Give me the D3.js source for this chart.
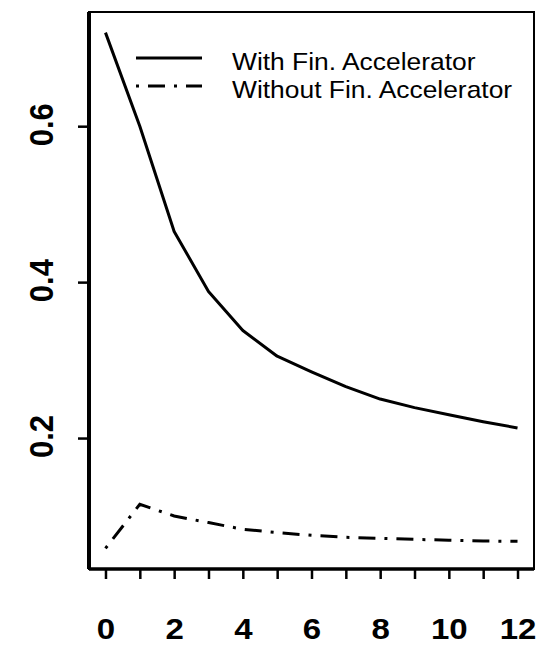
<!DOCTYPE html>
<html>
<head>
<meta charset="utf-8">
<script src="https://cdn.jsdelivr.net/npm/d3@7"></script>
<style>
  body { margin: 0; background: #fff; }
  svg { display: block; }
  text { font-family: "Liberation Sans", Arial, sans-serif; fill: #000; }
</style>
</head>
<body>
<svg width="550" height="646"></svg>
<script>
const periods = [0, 1, 2, 3, 4, 5, 6, 7, 8, 9, 10, 11, 12];
const withAccel = [0.72, 0.60, 0.465, 0.388, 0.338, 0.305, 0.285, 0.266, 0.250, 0.239, 0.230, 0.221, 0.213];
const withoutAccel = [0.0585, 0.115, 0.100, 0.0916, 0.083, 0.0787, 0.0752, 0.0727, 0.0714, 0.070, 0.069, 0.068, 0.0675];
const xTicks = [0, 1, 2, 3, 4, 5, 6, 7, 8, 9, 10, 11, 12];
const xLabels = [0, 2, 4, 6, 8, 10, 12];
const yTicks = [0.2, 0.4, 0.6];
const seriesNames = ['With Fin. Accelerator', 'Without Fin. Accelerator'];

const svg = d3.select('svg');
const margin = {top: 12, right: 16, bottom: 77, left: 89};
const width = +svg.attr('width') - margin.left - margin.right;
const height = +svg.attr('height') - margin.top - margin.bottom;
const sx = 1.1; // the picture is stretched a bit sideways
const dotdash = '3,9,17,9';

const g = svg.append('g')
  .attr('transform', `translate(${margin.left},${margin.top})`);

// R-style 4% padding around the data
const pad = (lo, hi) => [lo - (hi - lo) * 0.04, hi + (hi - lo) * 0.04];
const allY = withAccel.concat(withoutAccel);

const x = d3.scaleLinear()
  .domain(pad(d3.min(periods), d3.max(periods)))
  .range([0, width]);

const y = d3.scaleLinear()
  .domain(pad(d3.min(allY), d3.max(allY)))
  .range([height, 0]);

// frame
g.append('rect')
  .attr('width', width)
  .attr('height', height)
  .attr('fill', 'none')
  .attr('stroke', '#000')
  .attr('stroke-width', 2);

const xAxis = g.append('g')
  .attr('transform', `translate(0,${height})`)
  .call(d3.axisBottom(x)
    .tickValues(xTicks)
    .tickSize(10)
    .tickSizeOuter(0)
    .tickFormat(d => xLabels.includes(d) ? d : ''));

xAxis.select('.domain').remove();
xAxis.selectAll('line').attr('stroke-width', 2.5);
xAxis.selectAll('text')
  .attr('y', 0)
  .attr('dy', 0)
  .attr('transform', `translate(0,70) scale(${sx},1)`)
  .style('font-size', '30px')
  .style('font-weight', 'bold');

const yAxis = g.append('g')
  .call(d3.axisLeft(y)
    .tickValues(yTicks)
    .tickSize(11)
    .tickSizeOuter(0)
    .tickFormat(d3.format('.1f')));

yAxis.select('.domain').remove();
yAxis.selectAll('line').attr('stroke-width', 2.5);
yAxis.selectAll('text')
  .attr('x', 0)
  .attr('dy', 0)
  .attr('text-anchor', 'middle')
  .attr('transform', `translate(-36,-2) scale(${sx},1) rotate(-90)`)
  .style('font-size', '31px')
  .style('font-weight', 'bold');

// heavier left and bottom edges
g.append('line')
  .attr('x1', 0).attr('x2', 0)
  .attr('y1', 0).attr('y2', height)
  .attr('stroke', '#000').attr('stroke-width', 4);
g.append('line')
  .attr('x1', 0).attr('x2', width)
  .attr('y1', height).attr('y2', height)
  .attr('stroke', '#000').attr('stroke-width', 3.5);

const line = d3.line()
  .x((d, i) => x(periods[i]))
  .y(d => y(d));

g.append('path')
  .datum(withAccel)
  .attr('d', line)
  .attr('fill', 'none')
  .attr('stroke', '#000')
  .attr('stroke-width', 3)
  .attr('stroke-linejoin', 'round');

g.append('path')
  .datum(withoutAccel)
  .attr('d', line)
  .attr('fill', 'none')
  .attr('stroke', '#000')
  .attr('stroke-width', 3)
  .attr('stroke-dasharray', dotdash);

// legend
const legend = svg.append('g')
  .attr('transform', 'translate(136,58)');

const rows = legend.selectAll('g')
  .data(seriesNames)
  .enter().append('g')
    .attr('transform', (d, i) => `translate(0,${i * 28})`);

rows.append('line')
  .attr('x1', 0)
  .attr('x2', 66)
  .attr('stroke', '#000')
  .attr('stroke-width', 3)
  .attr('stroke-dasharray', (d, i) => i === 1 ? dotdash : null);

rows.append('text')
  .attr('transform', `translate(96,12) scale(1.1,1)`)
  .style('font-size', '24px')
  .text(d => d);
</script>
</body>
</html>
